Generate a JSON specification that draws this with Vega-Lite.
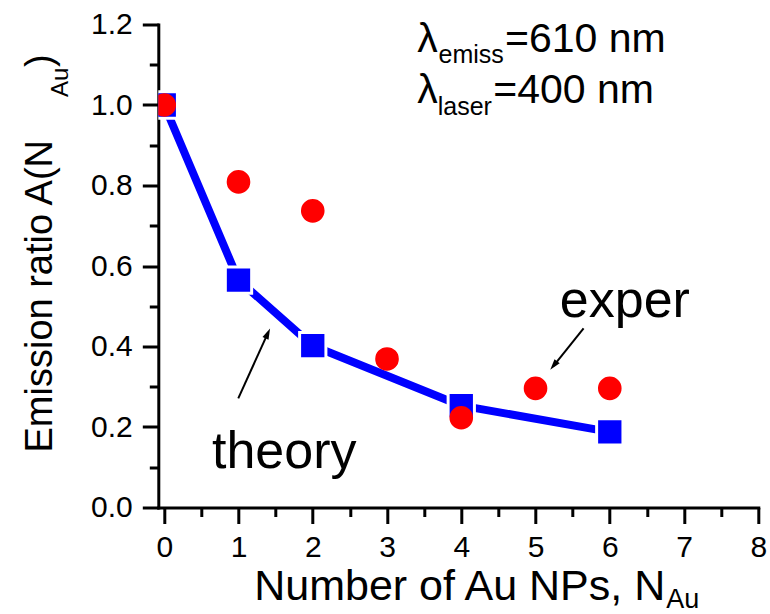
{
  "$schema": "https://vega.github.io/schema/vega-lite/v6.json",
  "width": 600,
  "height": 483,
  "autosize": {"type": "none"},
  "padding": {"left": 158.3, "top": 24.5, "right": 11.7, "bottom": 106.5},
  "background": "white",
  "config": {
    "view": {"stroke": null},
    "font": "Liberation Sans",
    "axis": {
      "grid": false,
      "domainColor": "#000000",
      "domainWidth": 3,
      "domainCap": "square",
      "tickColor": "#000000",
      "tickWidth": 3,
      "labelColor": "#000000",
      "labelFont": "Liberation Sans",
      "labelFontSize": 30,
      "labelOverlap": false,
      "labelFlush": false,
      "labelBound": false,
      "titleColor": "#000000",
      "titleFont": "Liberation Sans",
      "titleFontWeight": "normal"
    }
  },
  "datasets": {
    "theory": [
      {"n": 0, "A": 1.0},
      {"n": 1, "A": 0.565},
      {"n": 2, "A": 0.402},
      {"n": 4, "A": 0.253},
      {"n": 6, "A": 0.188}
    ],
    "exper": [
      {"n": 0, "A": 1.0},
      {"n": 1, "A": 0.809},
      {"n": 2, "A": 0.737},
      {"n": 3, "A": 0.369},
      {"n": 4, "A": 0.223},
      {"n": 5, "A": 0.296},
      {"n": 6, "A": 0.296}
    ],
    "bigText": [
      {"x": 0.643, "y": 0.0981, "text": "theory"},
      {"x": 5.327, "y": 0.474, "text": "exper"}
    ],
    "lambdaMain": [
      {"x": 3.406, "y": 1.1324, "text": "λ"},
      {"x": 4.588, "y": 1.1324, "text": "=610 nm"},
      {"x": 3.406, "y": 1.0042, "text": "λ"},
      {"x": 4.43, "y": 1.0042, "text": "=400 nm"}
    ],
    "lambdaSub": [
      {"x": 3.693, "y": 1.1036, "text": "emiss"},
      {"x": 3.683, "y": 0.9752, "text": "laser"}
    ],
    "xSub": [{"x": 6.76, "y": -0.2497, "text": "Au"}],
    "ySub": [{"x": -1.294, "y": 1.02, "text": "Au"}],
    "yParen": [{"x": -1.5175, "y": 1.0944, "text": ")"}],
    "arrows": [
      {"x": 0.997, "y": 0.271, "x2": 1.397, "y2": 0.434},
      {"x": 5.647, "y": 0.445, "x2": 5.24, "y2": 0.351}
    ],
    "headTheory": [{"x": 1.425, "y": 0.445}],
    "headExper": [{"x": 5.198, "y": 0.342}]
  },
  "resolve": {"axis": {"x": "independent", "y": "independent"}},
  "layer": [
    {
      "data": {"name": "theory"},
      "mark": {"type": "line", "color": "#0000ff", "strokeWidth": 8, "strokeCap": "round", "strokeJoin": "round"},
      "encoding": {
        "x": {"field": "n", "type": "quantitative", "scale": {"domain": [-0.08, 8], "nice": false, "zero": false},
          "axis": {"orient": "bottom", "values": [0, 1, 2, 3, 4, 5, 6, 7, 8], "format": "d", "tickSize": 16, "tickWidth": 3, "domainWidth": 3, "labelPadding": 9,
            "title": "Number of Au NPs, N", "titleFontSize": 43, "titleX": 95.4, "titleY": 92, "titleAlign": "left", "titleBaseline": "alphabetic", "titleAngle": 0}},
        "y": {"field": "A", "type": "quantitative", "scale": {"domain": [0, 1.2], "nice": false, "zero": false},
          "axis": {"orient": "left", "values": [0, 0.2, 0.4, 0.6, 0.8, 1.0, 1.2], "format": ".1f", "tickSize": 16, "tickWidth": 3, "domainWidth": 3, "labelPadding": 10,
            "title": "Emission ratio A(N", "titleFontSize": 38, "titleX": -106.6, "titleY": 427.5, "titleAngle": 270, "titleAlign": "left", "titleBaseline": "alphabetic"}}
      }
    },
    {
      "data": {"name": "theory"},
      "mark": {"type": "point", "shape": "square", "filled": true, "color": "white", "opacity": 1, "size": 858, "clip": true},
      "encoding": {
        "x": {"field": "n", "type": "quantitative", "scale": {"domain": [-0.08, 8], "nice": false, "zero": false},
          "axis": {"orient": "bottom", "values": [0.5, 1.5, 2.5, 3.5, 4.5, 5.5, 6.5, 7.5], "tickSize": 9, "tickWidth": 3, "labels": false, "domain": false, "title": null}},
        "y": {"field": "A", "type": "quantitative", "scale": {"domain": [0, 1.2], "nice": false, "zero": false},
          "axis": {"orient": "left", "values": [0.1, 0.3, 0.5, 0.7, 0.9, 1.1], "tickSize": 9, "tickWidth": 3, "labels": false, "domain": false, "title": null}}
      }
    },
    {
      "data": {"name": "theory"},
      "mark": {"type": "point", "shape": "square", "filled": true, "color": "#0000ff", "opacity": 1, "size": 544, "clip": true},
      "encoding": {
        "x": {"field": "n", "type": "quantitative", "scale": {"domain": [-0.08, 8], "nice": false, "zero": false}, "axis": null},
        "y": {"field": "A", "type": "quantitative", "scale": {"domain": [0, 1.2], "nice": false, "zero": false}, "axis": null}
      }
    },
    {
      "data": {"name": "exper"},
      "mark": {"type": "point", "shape": "circle", "filled": true, "color": "#ff0000", "opacity": 1, "size": 558, "clip": true},
      "encoding": {
        "x": {"field": "n", "type": "quantitative", "scale": {"domain": [-0.08, 8], "nice": false, "zero": false}, "axis": null},
        "y": {"field": "A", "type": "quantitative", "scale": {"domain": [0, 1.2], "nice": false, "zero": false}, "axis": null}
      }
    },
    {
      "data": {"name": "arrows"},
      "mark": {"type": "rule", "color": "black", "strokeWidth": 2},
      "encoding": {
        "x": {"field": "x", "type": "quantitative", "scale": {"domain": [-0.08, 8], "nice": false, "zero": false}, "axis": null},
        "y": {"field": "y", "type": "quantitative", "scale": {"domain": [0, 1.2], "nice": false, "zero": false}, "axis": null},
        "x2": {"field": "x2"},
        "y2": {"field": "y2"}
      }
    },
    {
      "data": {"name": "headTheory"},
      "mark": {"type": "point", "shape": "M0,0L-0.3,1L0.3,1Z", "filled": true, "color": "black", "opacity": 1, "size": 484, "angle": 24.4, "strokeWidth": 0},
      "encoding": {
        "x": {"field": "x", "type": "quantitative", "scale": {"domain": [-0.08, 8], "nice": false, "zero": false}, "axis": null},
        "y": {"field": "y", "type": "quantitative", "scale": {"domain": [0, 1.2], "nice": false, "zero": false}, "axis": null}
      }
    },
    {
      "data": {"name": "headExper"},
      "mark": {"type": "point", "shape": "M0,0L-0.3,1L0.3,1Z", "filled": true, "color": "black", "opacity": 1, "size": 484, "angle": 218.6, "strokeWidth": 0},
      "encoding": {
        "x": {"field": "x", "type": "quantitative", "scale": {"domain": [-0.08, 8], "nice": false, "zero": false}, "axis": null},
        "y": {"field": "y", "type": "quantitative", "scale": {"domain": [0, 1.2], "nice": false, "zero": false}, "axis": null}
      }
    },
    {
      "data": {"name": "bigText"},
      "mark": {"type": "text", "fontSize": 52, "align": "left", "baseline": "alphabetic", "color": "black", "font": "Liberation Sans"},
      "encoding": {
        "x": {"field": "x", "type": "quantitative", "scale": {"domain": [-0.08, 8], "nice": false, "zero": false}, "axis": null},
        "y": {"field": "y", "type": "quantitative", "scale": {"domain": [0, 1.2], "nice": false, "zero": false}, "axis": null},
        "text": {"field": "text"}
      }
    },
    {
      "data": {"name": "lambdaMain"},
      "mark": {"type": "text", "fontSize": 41, "align": "left", "baseline": "alphabetic", "color": "black", "font": "Liberation Sans"},
      "encoding": {
        "x": {"field": "x", "type": "quantitative", "scale": {"domain": [-0.08, 8], "nice": false, "zero": false}, "axis": null},
        "y": {"field": "y", "type": "quantitative", "scale": {"domain": [0, 1.2], "nice": false, "zero": false}, "axis": null},
        "text": {"field": "text"}
      }
    },
    {
      "data": {"name": "lambdaSub"},
      "mark": {"type": "text", "fontSize": 25, "align": "left", "baseline": "alphabetic", "color": "black", "font": "Liberation Sans"},
      "encoding": {
        "x": {"field": "x", "type": "quantitative", "scale": {"domain": [-0.08, 8], "nice": false, "zero": false}, "axis": null},
        "y": {"field": "y", "type": "quantitative", "scale": {"domain": [0, 1.2], "nice": false, "zero": false}, "axis": null},
        "text": {"field": "text"}
      }
    },
    {
      "data": {"name": "xSub"},
      "mark": {"type": "text", "fontSize": 27, "align": "left", "baseline": "alphabetic", "color": "black", "font": "Liberation Sans"},
      "encoding": {
        "x": {"field": "x", "type": "quantitative", "scale": {"domain": [-0.08, 8], "nice": false, "zero": false}, "axis": null},
        "y": {"field": "y", "type": "quantitative", "scale": {"domain": [0, 1.2], "nice": false, "zero": false}, "axis": null},
        "text": {"field": "text"}
      }
    },
    {
      "data": {"name": "ySub"},
      "mark": {"type": "text", "fontSize": 24, "angle": 270, "align": "left", "baseline": "alphabetic", "color": "black", "font": "Liberation Sans"},
      "encoding": {
        "x": {"field": "x", "type": "quantitative", "scale": {"domain": [-0.08, 8], "nice": false, "zero": false}, "axis": null},
        "y": {"field": "y", "type": "quantitative", "scale": {"domain": [0, 1.2], "nice": false, "zero": false}, "axis": null},
        "text": {"field": "text"}
      }
    },
    {
      "data": {"name": "yParen"},
      "mark": {"type": "text", "fontSize": 38, "angle": 270, "align": "left", "baseline": "alphabetic", "color": "black", "font": "Liberation Sans"},
      "encoding": {
        "x": {"field": "x", "type": "quantitative", "scale": {"domain": [-0.08, 8], "nice": false, "zero": false}, "axis": null},
        "y": {"field": "y", "type": "quantitative", "scale": {"domain": [0, 1.2], "nice": false, "zero": false}, "axis": null},
        "text": {"field": "text"}
      }
    }
  ]
}
